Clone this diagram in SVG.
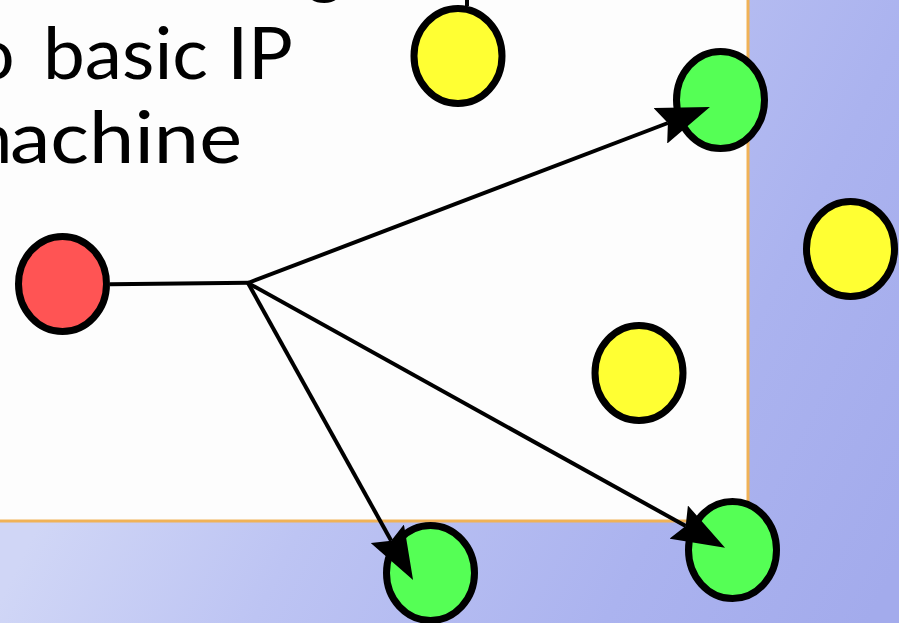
<svg xmlns="http://www.w3.org/2000/svg" width="899" height="623" viewBox="0 0 899 623">
  <style>
    .node { stroke: #000; stroke-width: 7; }
    .red { fill: #ff5454; }
    .yellow { fill: #ffff33; }
    .green { fill: #55ff55; }
    .wire { stroke: #000; stroke-width: 4; fill: none; stroke-linecap: butt; }
    .arrow { marker-end: url(#stealth); }
    .title { font-family: Lato, "Noto Sans", "Liberation Sans", sans-serif; font-size: 72px; fill: #000; }
  </style>
  <defs>
    <linearGradient id="bg" gradientUnits="userSpaceOnUse" x1="0" y1="600" x2="704" y2="952">
      <stop offset="0" stop-color="#d0d6f6"/>
      <stop offset="0.3" stop-color="#bdc4f3"/>
      <stop offset="0.7" stop-color="#abb3ef"/>
      <stop offset="1" stop-color="#a3abec"/>
    </linearGradient>
    <!-- notched arrowhead; ref point sits on the notch so the line ends inside it -->
    <marker id="stealth" viewBox="0 0 53 38" markerUnits="userSpaceOnUse" markerWidth="53" markerHeight="38" refX="8" refY="19" orient="auto">
      <path d="M0,0 L53,19 L0,38 L8,19 Z" fill="#000"/>
    </marker>
  </defs>

  <!-- slide background and content panel -->
  <rect x="0" y="0" width="899" height="623" fill="url(#bg)"/>
  <rect x="-5" y="-5" width="753" height="526" fill="#fdfdfd" stroke="#f0b257" stroke-width="3"/>

  <!-- heading text -->
  <g id="heading">
    <text class="title" x="306" y="-10">g</text>
    <text class="title" y="79"><tspan x="-52">to</tspan><tspan x="43" textLength="250" lengthAdjust="spacingAndGlyphs">basic IP</tspan></text>
    <text class="title" y="163"><tspan x="-47">m</tspan><tspan x="10" textLength="232" lengthAdjust="spacingAndGlyphs">achine</tspan></text>
  </g>

  <!-- hosts -->
  <g id="source"><ellipse class="node red" cx="62.5" cy="284" rx="44" ry="47.5"/></g>
  <g id="host-top"><ellipse class="node yellow" cx="458" cy="56" rx="44" ry="47.5"/></g>
  <g id="host-right"><ellipse class="node yellow" cx="850.5" cy="249" rx="44" ry="47.5"/></g>
  <g id="host-middle"><ellipse class="node yellow" cx="639" cy="373" rx="44" ry="47.5"/></g>
  <g id="dest-top"><ellipse class="node green" cx="720.5" cy="100" rx="44" ry="48.5"/></g>
  <g id="dest-bottom"><ellipse class="node green" cx="430.5" cy="573" rx="44" ry="47.5"/></g>
  <g id="dest-right"><ellipse class="node green" cx="732.5" cy="550" rx="44" ry="48.5"/></g>

  <!-- connectors, drawn over the nodes so the arrowheads sit on top -->
  <g id="connectors">
    <line class="wire" x1="467" y1="0" x2="467" y2="6"/>
    <line class="wire" x1="110" y1="284.3" x2="249" y2="282.7"/>
    <line class="wire arrow" x1="248" y1="283" x2="667.9" y2="123"/>
    <line class="wire arrow" x1="248" y1="283" x2="391.2" y2="540.7"/>
    <line class="wire arrow" x1="248" y1="283" x2="685.7" y2="526"/>
  </g>
</svg>
